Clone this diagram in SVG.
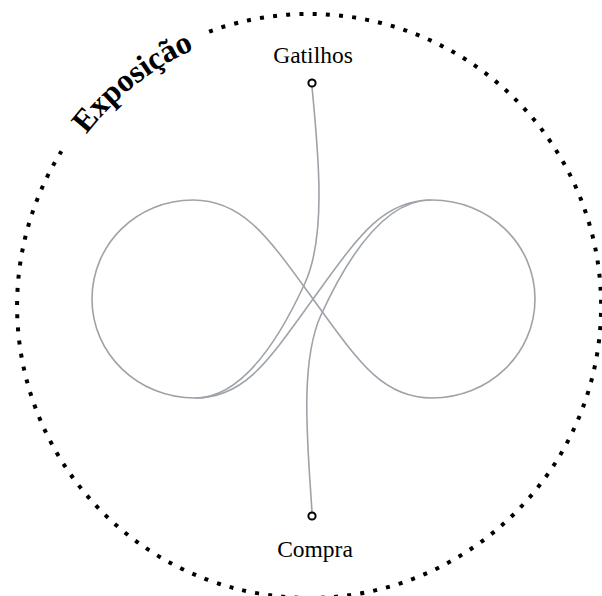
<svg xmlns="http://www.w3.org/2000/svg" width="602" height="596" viewBox="0 0 602 596">
<style>
.ring{fill:none;stroke:#000;stroke-width:4;stroke-dasharray:4 9.2}
.loop{fill:none;stroke:#9ea3a9;stroke-width:1.6}
.node{fill:#fff;stroke:#000;stroke-width:2}
.lbl{font-family:"Liberation Serif","Times New Roman",serif;font-size:23.5px;fill:#000;text-anchor:middle}
.title{font-family:"Liberation Serif","Times New Roman",serif;font-size:32px;font-weight:bold;fill:#000}
</style>
<defs>
<path id="titlePath" d="M 84.6 136.9 A 281 281 0 0 1 449.5 62.6"/>
</defs>
<g id="exposicao">
<path class="ring" d="M 209.1 31.6 A 292 292 0 1 1 61.4 151.3"/>
<text class="title"><textPath href="#titlePath" startOffset="3">Exposição</textPath></text>
</g>
<g id="connectors">
<path id="infinity" class="loop" d="M 313 299 C 358 237 382 200 432 200 C 489 200 535 244 535 299 C 535 354 489 398 432 398 C 382 398 358 361 313 299 C 268 237 243 200 193 200 C 137 200 92 244 92 299 C 92 354 138 398 195 398 C 245 398 268 361 313 299 Z"/>
<path id="gatilhos-link" class="loop" d="M 312 87 C 318 150 327 235 305 283 C 283 331 245 398 195 398"/>
<path id="compra-link" class="loop" d="M 312 512 C 308 448 299 363 321 315 C 343 267 381 200 431 200"/>
</g>
<g id="gatilhos">
<circle class="node" cx="312" cy="83" r="3.6"/>
<text class="lbl" x="313" y="63">Gatilhos</text>
</g>
<g id="compra">
<circle class="node" cx="312" cy="516" r="3.6"/>
<text class="lbl" x="315" y="557">Compra</text>
</g>
</svg>
